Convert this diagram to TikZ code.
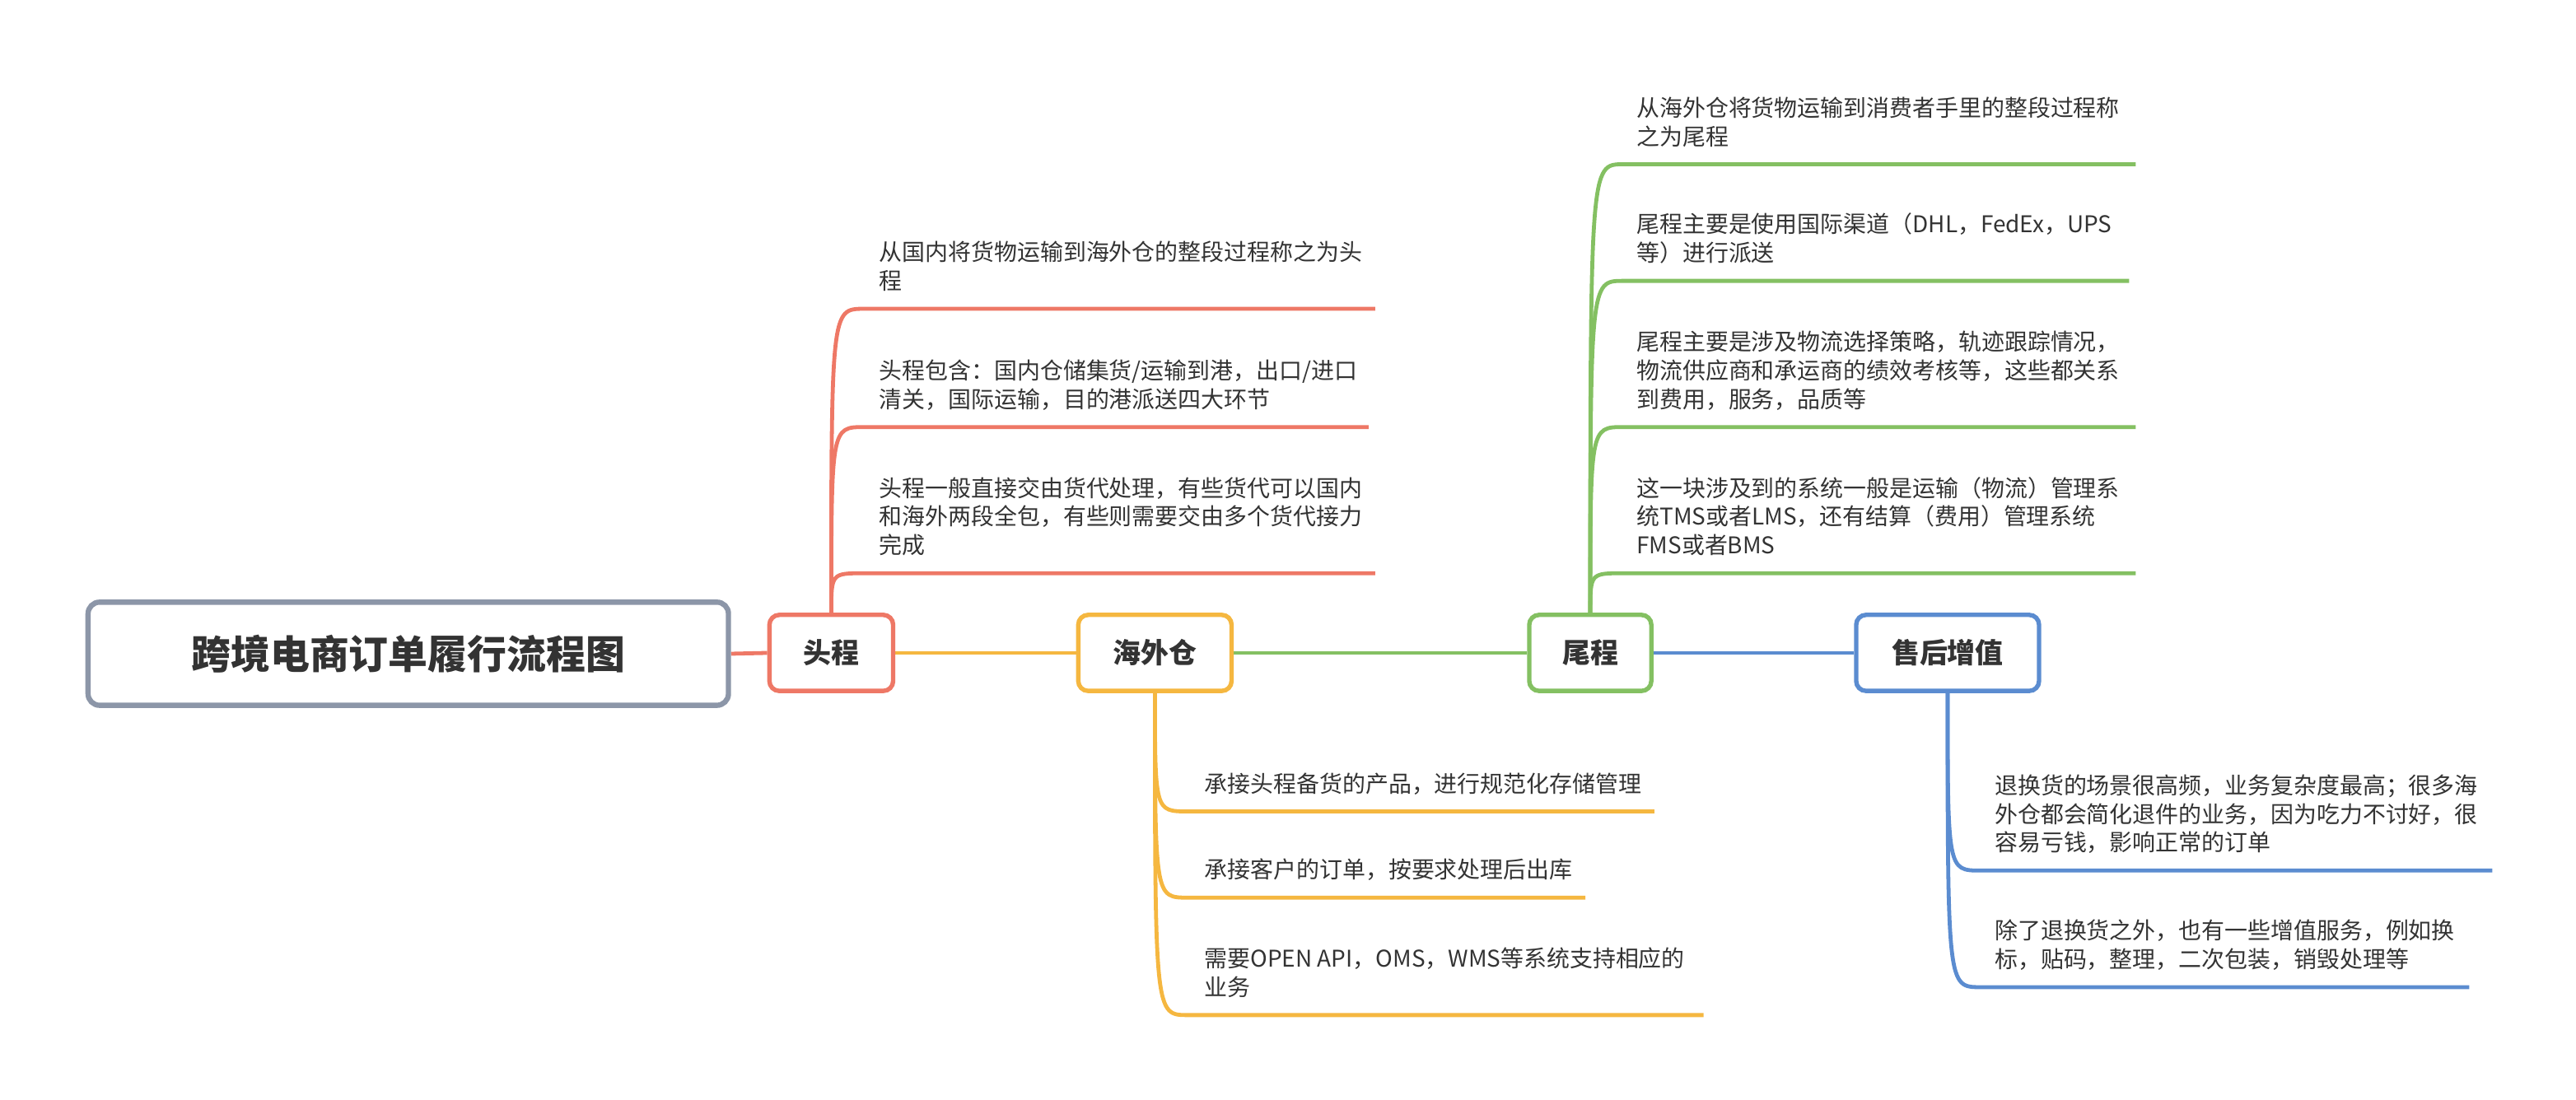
\documentclass[tikz,border=0pt]{standalone}
\usepackage{fontspec}
\setmainfont{Noto Sans CJK SC}
\usetikzlibrary{backgrounds}
\definecolor{cred}{RGB}{238,120,102}
\definecolor{corange}{RGB}{245,183,64}
\definecolor{cgreen}{RGB}{132,192,98}
\definecolor{cblue}{RGB}{91,140,208}
\definecolor{cgray}{RGB}{140,150,168}
\definecolor{txt}{RGB}{51,51,51}
\tikzset{
  topic/.style={draw, rounded corners=6pt, fill=white, line width=2.7pt,
    minimum height=46.3pt, inner sep=0pt, text=txt,
    font=\bfseries\fontsize{17}{20}\selectfont},
  rootbox/.style={draw=cgray, rounded corners=7pt, fill=white, line width=3.2pt,
    minimum width=389.8pt, minimum height=62.8pt, inner sep=0pt, text=txt,
    font=\bfseries\fontsize{24}{28}\selectfont},
  txtline/.style={anchor=base west, inner sep=0pt, text=txt,
    font=\fontsize{14}{17.5}\selectfont},
  branch/.style={line width=2.4pt},
}
\begin{document}
\begin{tikzpicture}[x=1pt,y=-1pt]
\useasboundingbox (0,0) rectangle (1568,669.7);

% main topics
\node[rootbox] (root) at (248.5,398) {跨境电商订单履行流程图};
\node[topic, draw=cred, minimum width=75.3pt] (tou) at (506,397.5) {头程};
\node[topic, draw=corange, minimum width=93.3pt] (hwc) at (703,397.5) {海外仓};
\node[topic, draw=cgreen, minimum width=74.3pt] (wei) at (968,397.5) {尾程};
\node[topic, draw=cblue, minimum width=111.3pt] (shz) at (1185.5,397.5) {售后增值};

% underline ends
\coordinate (h1e) at (837,188);
\coordinate (h2e) at (833,260);
\coordinate (h3e) at (837,349);
\coordinate (w1e) at (1300,100);
\coordinate (w2e) at (1296,171);
\coordinate (w3e) at (1300,260);
\coordinate (w4e) at (1300,349);
\coordinate (o1e) at (1007,494);
\coordinate (o2e) at (965,546.5);
\coordinate (o3e) at (1037,618);
\coordinate (s1e) at (1517,530);
\coordinate (s2e) at (1503,601);

% texts: 头程
\node[txtline] (h1a) at (535,158.8) {从国内将货物运输到海外仓的整段过程称之为头};
\node[txtline] (h1b) at (535,176.3) {程};
\node[txtline] (h2a) at (535,230.8) {头程包含：国内仓储集货/运输到港，出口/进口};
\node[txtline] (h2b) at (535,248.3) {清关，国际运输，目的港派送四大环节};
\node[txtline] (h3a) at (535,302.3) {头程一般直接交由货代处理，有些货代可以国内};
\node[txtline] (h3b) at (535,319.8) {和海外两段全包，有些则需要交由多个货代接力};
\node[txtline] (h3c) at (535,337.3) {完成};

% texts: 尾程
\node[txtline] (w1a) at (996,70.8) {从海外仓将货物运输到消费者手里的整段过程称};
\node[txtline] (w1b) at (996,88.3) {之为尾程};
\node[txtline] (w2a) at (996,141.8) {尾程主要是使用国际渠道（DHL，FedEx，UPS};
\node[txtline] (w2b) at (996,159.3) {等）进行派送};
\node[txtline] (w3a) at (996,213.3) {尾程主要是涉及物流选择策略，轨迹跟踪情况，};
\node[txtline] (w3b) at (996,230.8) {物流供应商和承运商的绩效考核等，这些都关系};
\node[txtline] (w3c) at (996,248.3) {到费用，服务，品质等};
\node[txtline] (w4a) at (996,302.3) {这一块涉及到的系统一般是运输（物流）管理系};
\node[txtline] (w4b) at (996,319.8) {统TMS或者LMS，还有结算（费用）管理系统};
\node[txtline] (w4c) at (996,337.3) {FMS或者BMS};

% texts: 海外仓
\node[txtline] (o1a) at (733,482.3) {承接头程备货的产品，进行规范化存储管理};
\node[txtline] (o2a) at (733,534.8) {承接客户的订单，按要求处理后出库};
\node[txtline] (o3a) at (733,588.8) {需要OPEN API，OMS，WMS等系统支持相应的};
\node[txtline] (o3b) at (733,606.3) {业务};

% texts: 售后增值
\node[txtline] (s1a) at (1214,483.3) {退换货的场景很高频，业务复杂度最高；很多海};
\node[txtline] (s1b) at (1214,500.8) {外仓都会简化退件的业务，因为吃力不讨好，很};
\node[txtline] (s1c) at (1214,518.3) {容易亏钱，影响正常的订单};
\node[txtline] (s2a) at (1214,571.8) {除了退换货之外，也有一些增值服务，例如换};
\node[txtline] (s2b) at (1214,589.3) {标，贴码，整理，二次包装，销毁处理等};

\begin{scope}[on background layer]
% main connectors
\draw[branch, cred] (root.east) -- (tou.west);
\draw[branch, corange] (tou.east) -- (hwc.west);
\draw[branch, cgreen] (hwc.east) -- (wei.west);
\draw[branch, cblue] (wei.east) -- (shz.west);
% 头程 branches
\foreach \e in {h1e,h2e,h3e}
  \draw[branch, cred] (tou.north) .. controls (tou.north |- \e) .. ([xshift=20pt]tou.north |- \e) -- (\e);
% 尾程 branches
\foreach \e in {w1e,w2e,w3e,w4e}
  \draw[branch, cgreen] (wei.north) .. controls (wei.north |- \e) .. ([xshift=20pt]wei.north |- \e) -- (\e);
% 海外仓 branches
\foreach \e in {o1e,o2e,o3e}
  \draw[branch, corange] (hwc.south) .. controls (hwc.south |- \e) .. ([xshift=20pt]hwc.south |- \e) -- (\e);
% 售后增值 branches
\foreach \e in {s1e,s2e}
  \draw[branch, cblue] (shz.south) .. controls (shz.south |- \e) .. ([xshift=20pt]shz.south |- \e) -- (\e);
\end{scope}
\end{tikzpicture}
\end{document}
